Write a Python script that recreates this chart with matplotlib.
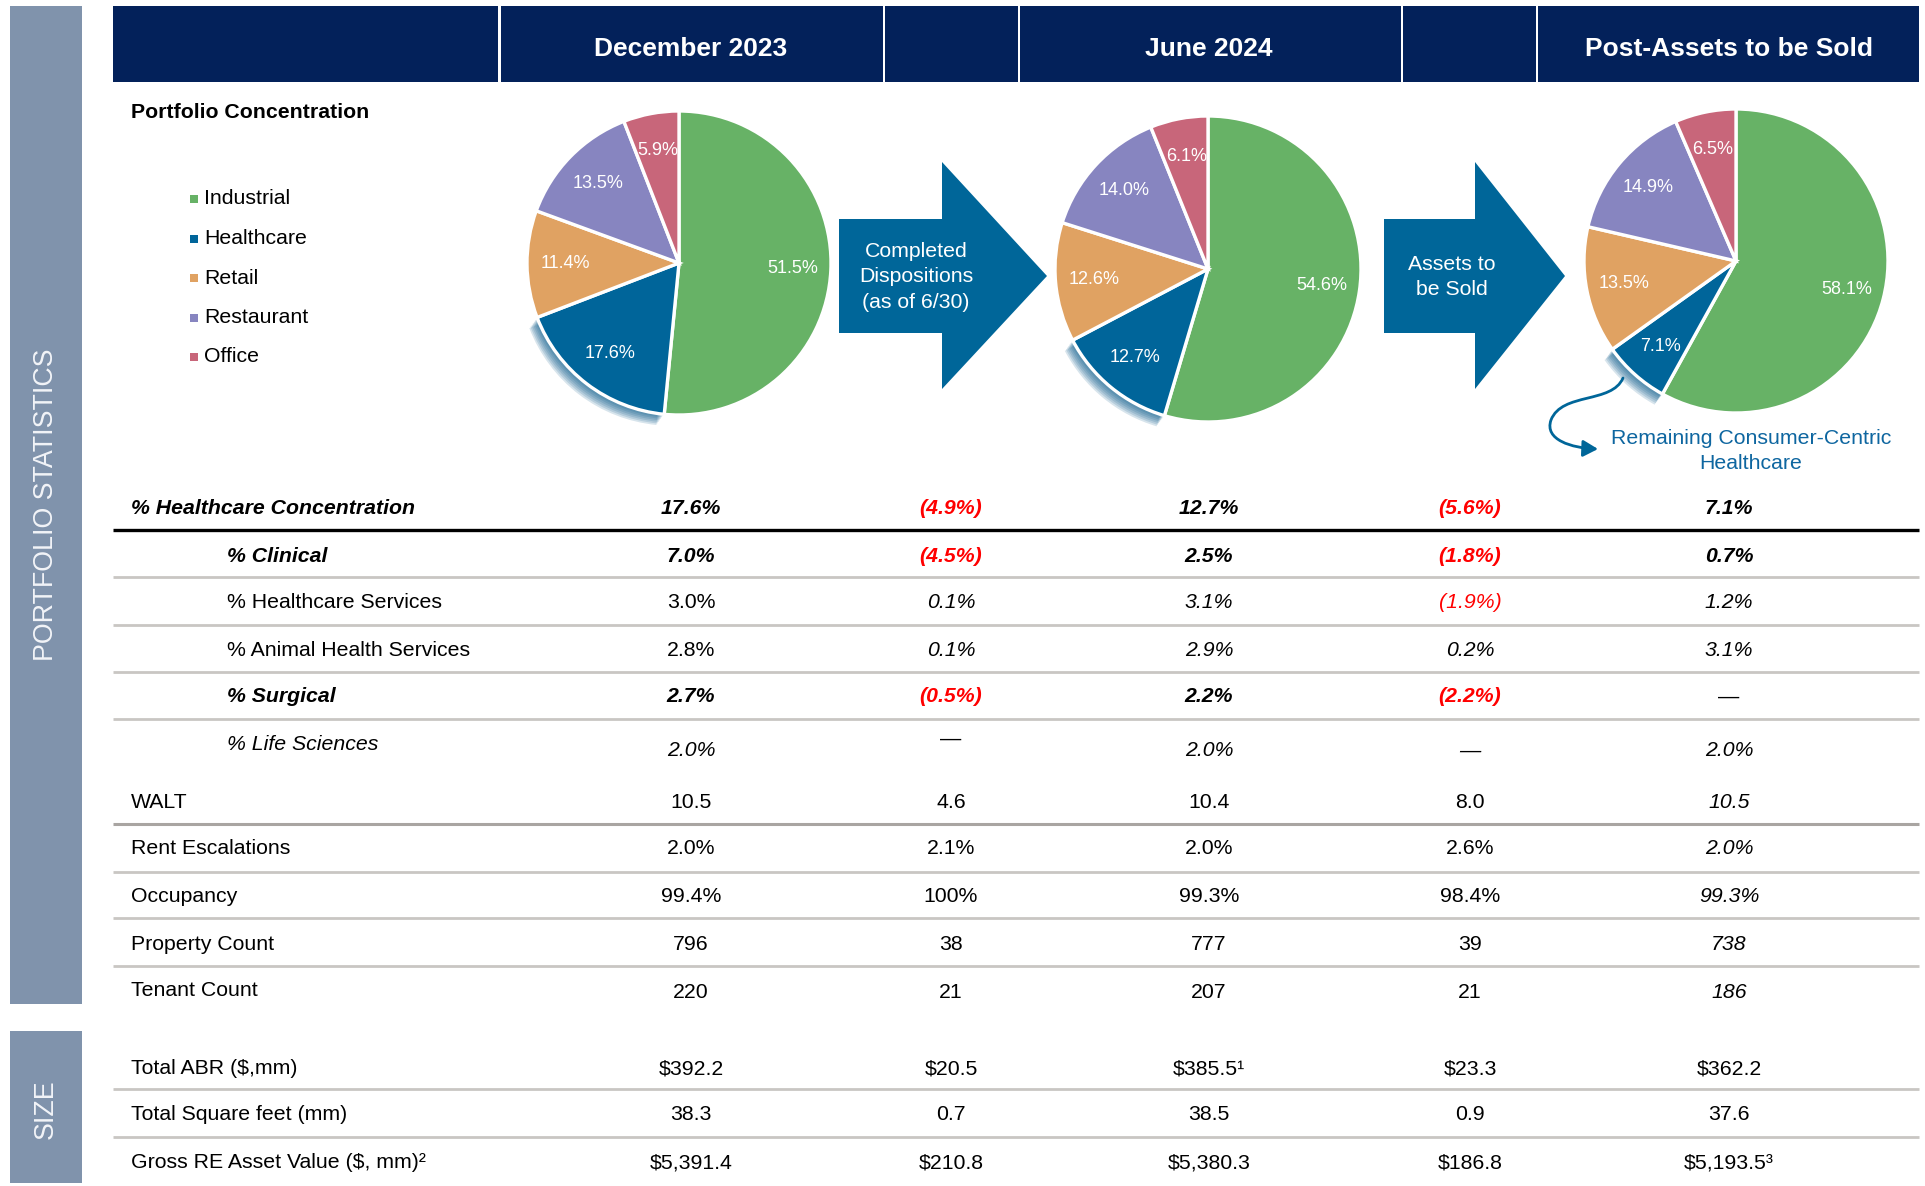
import numpy as np
import matplotlib
matplotlib.use("agg")
import matplotlib.pyplot as plt
import matplotlib.patheffects as pe
from matplotlib.patches import Rectangle, Polygon, FancyArrowPatch
from matplotlib.path import Path

plt.rcParams['font.family'] = ['Liberation Sans', 'DejaVu Sans']

# ---- data ----
periods = ["December 2023", "", "June 2024", "", "Post-Assets to be Sold"]
categories = ["Industrial", "Healthcare", "Retail", "Restaurant", "Office"]
dec_2023 = [51.5, 17.6, 11.4, 13.5, 5.9]
jun_2024 = [54.6, 12.7, 12.6, 14.0, 6.1]
post_sale = [58.1, 7.1, 13.5, 14.9, 6.5]
arrow_labels = ["Completed\nDispositions\n(as of 6/30)", "Assets to\nbe Sold"]

row_labels = ["% Healthcare Concentration", "% Clinical", "% Healthcare Services",
              "% Animal Health Services", "% Surgical", "% Life Sciences", "WALT",
              "Rent Escalations", "Occupancy", "Property Count", "Tenant Count",
              "Total ABR ($,mm)", "Total Square feet (mm)", "Gross RE Asset Value ($, mm)\u00b2"]
healthcare_conc = ["17.6%", "(4.9%)", "12.7%", "(5.6%)", "7.1%"]
clinical = ["7.0%", "(4.5%)", "2.5%", "(1.8%)", "0.7%"]
hc_services = ["3.0%", "0.1%", "3.1%", "(1.9%)", "1.2%"]
animal_health = ["2.8%", "0.1%", "2.9%", "0.2%", "3.1%"]
surgical = ["2.7%", "(0.5%)", "2.2%", "(2.2%)", "\u2014"]
life_sciences = ["2.0%", "\u2014", "2.0%", "\u2014", "2.0%"]
walt = ["10.5", "4.6", "10.4", "8.0", "10.5"]
rent_esc = ["2.0%", "2.1%", "2.0%", "2.6%", "2.0%"]
occupancy = ["99.4%", "100%", "99.3%", "98.4%", "99.3%"]
property_count = ["796", "38", "777", "39", "738"]
tenant_count = ["220", "21", "207", "21", "186"]
total_abr = ["$392.2", "$20.5", "$385.5\u00b9", "$23.3", "$362.2"]
total_sqft = ["38.3", "0.7", "38.5", "0.9", "37.6"]
gross_re = ["$5,391.4", "$210.8", "$5,380.3", "$186.8", "$5,193.5\u00b3"]
table_rows = [healthcare_conc, clinical, hc_services, animal_health, surgical,
              life_sciences, walt, rent_esc, occupancy, property_count,
              tenant_count, total_abr, total_sqft, gross_re]

# ---- styling ----
W, H = 1925, 1186
navy = '#03215A'
side_col = '#8093AC'
pie_colors = ['#67B266', '#00659A', '#E0A262', '#8785C0', '#C8667A']
arrow_col = '#006699'
red = '#FF0000'
fs = 15.3

# label style / indent, value styles per row (n = normal, i = italic, b = bold italic)
label_style = ['b', 'b', 'n', 'n', 'b', 'i', 'n', 'n', 'n', 'n', 'n', 'n', 'n', 'n']
label_indent = [0, 1, 1, 1, 1, 1, 0, 0, 0, 0, 0, 0, 0, 0]
value_style = ['bbbbb', 'bbbbb', 'niiii', 'niiii', 'bbbbn', 'iniii', 'nnnni',
               'nnnni', 'nnnni', 'nnnni', 'nnnni', 'nnnnn', 'nnnnn', 'nnnnn']
row_y = [508, 556, 602, 650, 697, 745, 802, 849, 897, 944, 991, 1068, 1114, 1162]
value_dy = [0, 0, 0, 0, 0, 6, 1, 0, 0, 0, 1, 1, 1, 1]
col_x = [691, 951, 1209, 1470, 1729]
# separators: (y, color, width)
separators = [(530, '#000000', 2.4), (577, '#C9C6C3', 2.0), (625, '#C9C6C3', 2.0),
              (672, '#C9C6C3', 2.0), (719, '#C9C6C3', 2.0), (824, '#A9A5A2', 2.2),
              (872, '#C9C6C3', 2.0), (918, '#C9C6C3', 2.0), (966, '#C9C6C3', 2.0),
              (1089, '#C9C6C3', 2.0), (1137, '#C9C6C3', 2.0)]

fig = plt.figure(figsize=(W / 100, H / 100), dpi=100)
ax = fig.add_axes([0, 0, 1, 1])
ax.set_xlim(0, W)
ax.set_ylim(H, 0)
ax.axis('off')

# side bars
ax.add_patch(Rectangle((10, 6), 72, 998, color=side_col, lw=0))
ax.add_patch(Rectangle((10, 1031), 72, 152, color=side_col, lw=0))
ax.text(46, 505, "PORTFOLIO STATISTICS", rotation=90, ha='center', va='center',
        color='#F2F4F8', fontsize=19.3)
ax.text(46, 1109, "SIZE", rotation=90, ha='center', va='center',
        color='#F2F4F8', fontsize=19.3)

# header
header_cells = [(113, 498), (501, 883), (885, 1018), (1020, 1401), (1403, 1536), (1538, 1919)]
for x0, x1 in header_cells:
    ax.add_patch(Rectangle((x0, 6), x1 - x0, 76, color=navy, lw=0))
for cx, name in zip(col_x, periods):
    ax.text(cx, 49, name, ha='center', va='center', color='white',
            fontsize=19, fontweight='bold')

ax.text(131, 112, "Portfolio Concentration", ha='left', va='center',
        fontsize=fs, fontweight='bold')

# legend
for i, (cat, c) in enumerate(zip(categories, pie_colors)):
    y = 198 + i * 39.5
    ax.add_patch(Rectangle((190, y - 3), 8, 8, color=c, lw=0))
    ax.text(204, y + 1, cat, ha='left', va='center', fontsize=fs)

# arrows
arrow_shapes = [(839, 942, 1047, 916), (1384, 1475, 1565, 1452)]
for (xa, xb, xt, xtxt), lab in zip(arrow_shapes, arrow_labels):
    ax.add_patch(Polygon([(xa, 219), (xb, 219), (xb, 162), (xt, 276), (xb, 389),
                          (xb, 333), (xa, 333)], closed=True, color=arrow_col, lw=0))
    ax.text(xtxt, 277, lab, ha='center', va='center', ma='center',
            color='white', fontsize=fs, linespacing=1.42)

# annotation for remaining healthcare
curve = Path([(1623, 378), (1612, 404), (1562, 392), (1551, 420),
              (1544, 440), (1572, 448), (1598, 449)],
             [Path.MOVETO, Path.CURVE4, Path.CURVE4, Path.CURVE4,
              Path.CURVE4, Path.CURVE4, Path.CURVE4])
ax.add_patch(FancyArrowPatch(path=curve, arrowstyle='-|>,head_length=9,head_width=5',
                             color=arrow_col, lw=2))
ax.text(1751, 451, "Remaining Consumer-Centric\nHealthcare", ha='center', va='center',
        ma='center', color='#0E66A0', fontsize=fs, linespacing=1.42)

# soft shadow under the healthcare slice
shadow = [pe.SimplePatchShadow(offset=(-0.8 * k, -1.1 * k), shadow_rgbFace='#0A5A8A',
                               alpha=0.16) for k in range(7, 0, -1)] + [pe.Normal()]

# pies
pie_specs = [(679, 263, 152, dec_2023), (1208, 269, 153, jun_2024), (1736, 261, 152, post_sale)]
for cx, cy, r, vals in pie_specs:
    rb = r * 1.06
    pax = fig.add_axes([(cx - rb) / W, 1 - (cy + rb) / H, 2 * rb / W, 2 * rb / H])
    wedges, texts = pax.pie(vals, colors=pie_colors, startangle=90, counterclock=False,
                            labels=[f"{v:.1f}%" for v in vals], labeldistance=0.75,
                            wedgeprops=dict(edgecolor='white', linewidth=2.4))
    for t in texts:
        t.set_ha('center')
        t.set_va('center')
        t.set_color('white')
        t.set_fontsize(13)
    wedges[1].set_path_effects(shadow)
    pax.set_xlim(-1.06, 1.06)
    pax.set_ylim(-1.06, 1.06)
    pax.set_aspect('equal')
    pax.axis('off')

# table
for i, (lab, vals) in enumerate(zip(row_labels, table_rows)):
    st = label_style[i]
    ax.text(227 if label_indent[i] else 131, row_y[i], lab, ha='left', va='center',
            fontsize=fs, fontweight='bold' if st == 'b' else 'normal',
            fontstyle='normal' if st == 'n' else 'italic')
    for j, v in enumerate(vals):
        vs = value_style[i][j]
        dy = value_dy[i]
        if v == "\u2014" and i == 5 and j == 1:
            dy = -6
        ax.text(col_x[j], row_y[i] + dy, v, ha='center', va='center', fontsize=fs,
                color=red if v.startswith('(') else 'black',
                fontweight='bold' if vs == 'b' else 'normal',
                fontstyle='normal' if vs == 'n' else 'italic')

for y, c, lw in separators:
    ax.plot([113, 1919], [y, y], color=c, lw=lw, solid_capstyle='butt')

fig.savefig('out.png', dpi=100)
